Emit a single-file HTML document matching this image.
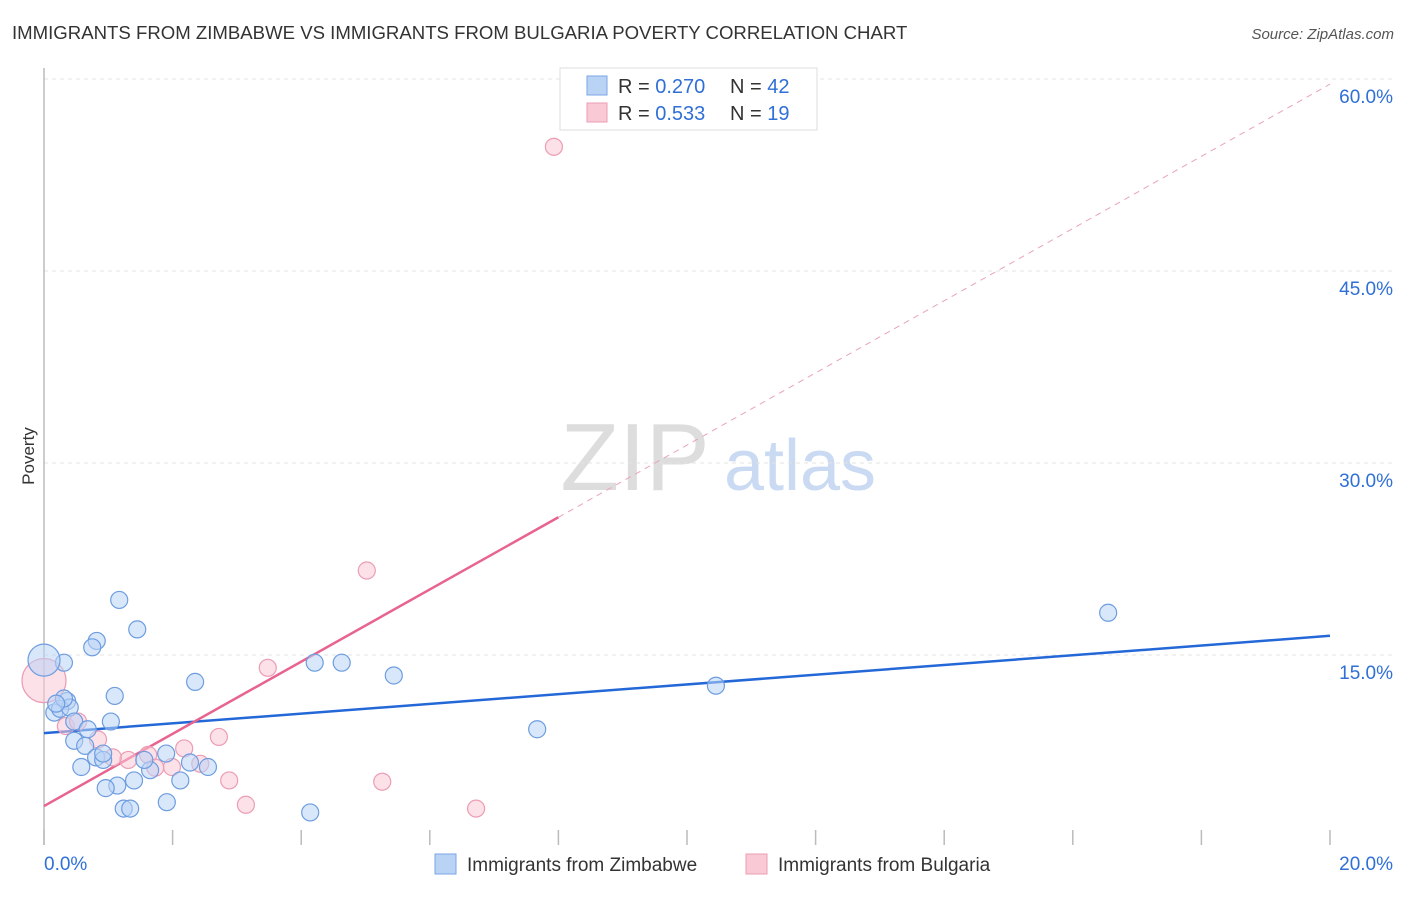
<!DOCTYPE html>
<html><head><meta charset="utf-8"><style>
body{margin:0;background:#fff;font-family:"Liberation Sans",sans-serif;}
svg text{font-family:"Liberation Sans",sans-serif;}
</style></head><body>
<svg id="chart" width="1406" height="892">
<text x="12" y="39" font-size="18.6" fill="#333">IMMIGRANTS FROM ZIMBABWE VS IMMIGRANTS FROM BULGARIA POVERTY CORRELATION CHART</text>
<text x="1394" y="39" font-size="15" fill="#555" font-style="italic" text-anchor="end">Source: ZipAtlas.com</text>
<text x="34" y="456" font-size="17" fill="#333" transform="rotate(-90 34 456)" text-anchor="middle">Poverty</text>
<g><text x="635" y="490" font-size="96" fill="#ddd" font-family="Liberation Serif" text-anchor="middle">ZIP</text><text x="800" y="490" font-size="72" fill="#c9daf2" text-anchor="middle">atlas</text></g>
<g id="grid"></g><g id="ticks"></g>
<line x1="44" y1="68" x2="44" y2="845" stroke="#bbb" stroke-width="1.5"/>
<g id="lines"></g><g id="pts"></g>
<g>
<rect x="560" y="68" width="257" height="62" fill="#fff" stroke="#ddd"/>
<rect x="587" y="76" width="20" height="19" fill="#b9d3f5" stroke="#7aa6e6"/>
<rect x="587" y="103" width="20" height="19" fill="#f9c9d6" stroke="#ec9db3"/>
<text x="618" y="93" font-size="20" fill="#333">R = <tspan fill="#2f6fd6">0.270</tspan></text>
<text x="730" y="93" font-size="20" fill="#333">N = <tspan fill="#2f6fd6">42</tspan></text>
<text x="618" y="120" font-size="20" fill="#333">R = <tspan fill="#2f6fd6">0.533</tspan></text>
<text x="730" y="120" font-size="20" fill="#333">N =  <tspan fill="#2f6fd6">19</tspan></text>
</g>
<g>
<rect x="435" y="854" width="21" height="20" fill="#b9d3f5" stroke="#7aa6e6"/>
<text x="467" y="871" font-size="19" fill="#333">Immigrants from Zimbabwe</text>
<rect x="746" y="854" width="21" height="20" fill="#f9c9d6" stroke="#ec9db3"/>
<text x="778" y="871" font-size="19" fill="#333">Immigrants from Bulgaria</text>
</g>
</svg>
<script>
const xTicks=[0,20];
const yTicks=[15,30,45,60];
const blueX=[1.17,1.45,0.82,0.75,0.31,0,2.35,1.10,0.36,0.16,0.25,0.40,1.04,0.47,0.68,0.47,0.64,0.81,0.92,0.92,0.58,1.14,0.96,1.40,1.90,1.65,2.12,2.27,2.55,1.91,1.24,1.34,1.56,4.21,4.63,5.44,10.45,7.67,4.14,16.55,0.31,0.19];
const blueY=[19.3,17.0,16.1,15.6,14.4,14.6,12.9,11.8,11.4,10.5,10.8,10.9,9.8,9.8,9.2,8.3,7.9,7.0,6.8,7.3,6.25,4.8,4.6,5.2,7.3,6.0,5.2,6.6,6.25,3.5,3.0,3.0,6.8,14.4,14.4,13.4,12.6,9.2,2.7,18.3,11.6,11.2];
const pinkX=[7.93,5.02,3.48,0,2.72,2.18,1.62,1.31,1.07,0.84,0.34,0.53,1.99,2.88,3.14,5.26,6.72,2.43,1.73];
const pinkY=[54.7,21.6,14.0,13.0,8.6,7.7,7.2,6.8,7.0,8.4,9.45,9.8,6.25,5.2,3.3,5.1,3.0,6.5,6.2];
const blueFit=[8.9,16.5];
const pinkFit=[3.2,59.6];
const pinkSolidEnd=8.0;
const X=v=>44+v/20*1286, Y=v=>847-v/15*192;
const NS='http://www.w3.org/2000/svg';
function mk(p,t,a){const e=document.createElementNS(NS,t);for(const k in a)e.setAttribute(k,a[k]);document.getElementById(p).appendChild(e);return e;}
yTicks.forEach(v=>{
 const l=mk('grid','line',{x1:44,x2:1394,y1:Y(v),y2:Y(v),stroke:'#e3e3e3','stroke-dasharray':'4 4'});
 
 
 const t=mk('grid','text',{x:1393,y:Y(v)+24,'font-size':19,fill:'#2f6fd6','text-anchor':'end'});t.textContent=v.toFixed(1)+'%';
 
 
});
for(let i=0;i<=10;i++){const l=mk('ticks','line',{x1:X(i*2),x2:X(i*2),y1:830,y2:845,stroke:'#bbb','stroke-width':1.5});
 
 }
xTicks.forEach((v,i)=>{const t=mk('ticks','text',{x:i?1393:44,y:870,'font-size':19,fill:'#2f6fd6','text-anchor':i?'end':'start'});t.textContent=v.toFixed(1)+'%';
 
 });
function pts(xs,ys,f,s,n){xs.forEach((x,i)=>{let r=8.5;if(x===0)r=n==='zimbabwe'?16:22;
 const c=mk('pts','circle',{cx:X(x),cy:Y(ys[i]),r:r,fill:f,'fill-opacity':0.55,stroke:s,'stroke-width':1.2});
 
 });}
pts(pinkX,pinkY,'#f9c9d6','#ec9db3','bulgaria');
pts(blueX,blueY,'#b9d3f5','#6d9de0','zimbabwe');
let l=mk('lines','line',{x1:X(0),y1:Y(blueFit[0]),x2:X(20),y2:Y(blueFit[1]),stroke:'#2468d8','stroke-width':2.5});


const py=x=>pinkFit[0]+(pinkFit[1]-pinkFit[0])*x/20;
l=mk('lines','line',{x1:X(0),y1:Y(py(0)),x2:X(pinkSolidEnd),y2:Y(py(pinkSolidEnd)),stroke:'#e8638f','stroke-width':2.5});


l=mk('lines','line',{x1:X(pinkSolidEnd),y1:Y(py(pinkSolidEnd)),x2:X(20),y2:Y(py(20)),stroke:'#eaa3b9','stroke-width':1,'stroke-dasharray':'6 5'});


</script>
</body></html>
